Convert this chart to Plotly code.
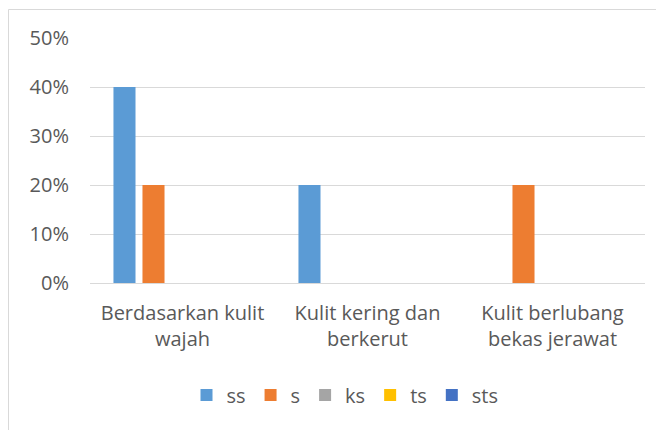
import plotly.graph_objects as go

categories = ["Berdasarkan kulit<br>wajah", "Kulit kering dan<br>berkerut", "Kulit berlubang<br>bekas jerawat"]
series_names = ["ss", "s", "ks", "ts", "sts"]
ss = [0.40, 0.20, 0.0]
s = [0.20, 0.0, 0.20]
ks = [0.0, 0.0, 0.0]
ts = [0.0, 0.0, 0.0]
sts = [0.0, 0.0, 0.0]
values = [ss, s, ks, ts, sts]
colors = ["#5B9BD5", "#ED7D31", "#A5A5A5", "#FFC000", "#4472C4"]
y_ticks = [0, 0.1, 0.2, 0.3, 0.4, 0.5]
y_tick_labels = ["0%", "10%", "20%", "30%", "40%", "50%"]

fig = go.Figure()
for name, vals, c in zip(series_names, values, colors):
    fig.add_trace(go.Bar(name=name, x=categories, y=vals, marker=dict(color=c, line=dict(width=0))))

OFF = 8  # page body margin
W, H = 664 - OFF, 430 - OFF
L, T = 90 - OFF, 38 - OFF
pw, ph = 555, 245
R = W - L - pw
B = H - T - ph

def px_x(p):
    return (p - OFF - L) / pw

def px_y(p):
    return (T + ph - (p - OFF)) / ph

font_family = "Open Sans, Liberation Sans, sans-serif"
fig.update_layout(
    width=W, height=H,
    margin=dict(l=L, r=R, t=T, b=B),
    paper_bgcolor="white", plot_bgcolor="white",
    barmode="group", bargap=0.216, bargroupgap=0.24,
    font=dict(family=font_family, color="#595959", size=20),
    showlegend=True,
    legend=dict(orientation="h", x=px_x(345), xanchor="center", y=px_y(395), yanchor="middle",
                font=dict(size=20, color="#595959"), traceorder="normal",
                itemwidth=30, tracegroupgap=0),
    xaxis=dict(showgrid=False, showline=False, ticks="", ticklabelstandoff=16,
               tickfont=dict(size=20, color="#595959")),
    yaxis=dict(range=[0, 0.5], tickvals=y_ticks, ticktext=y_tick_labels, showgrid=True,
               gridcolor="#D9D9D9", gridwidth=1, zeroline=True, zerolinecolor="#D9D9D9",
               zerolinewidth=1, showline=False, ticks="", ticklabelstandoff=20,
               tickfont=dict(size=20, color="#595959")),
    shapes=[
        dict(type="rect", xref="paper", yref="paper", x0=px_x(8.5), x1=px_x(700), y0=px_y(460), y1=px_y(9.5),
             line=dict(color="#D9D9D9", width=1), fillcolor="rgba(0,0,0,0)", layer="below"),
    ],
)

fig.write_html("out.html")
